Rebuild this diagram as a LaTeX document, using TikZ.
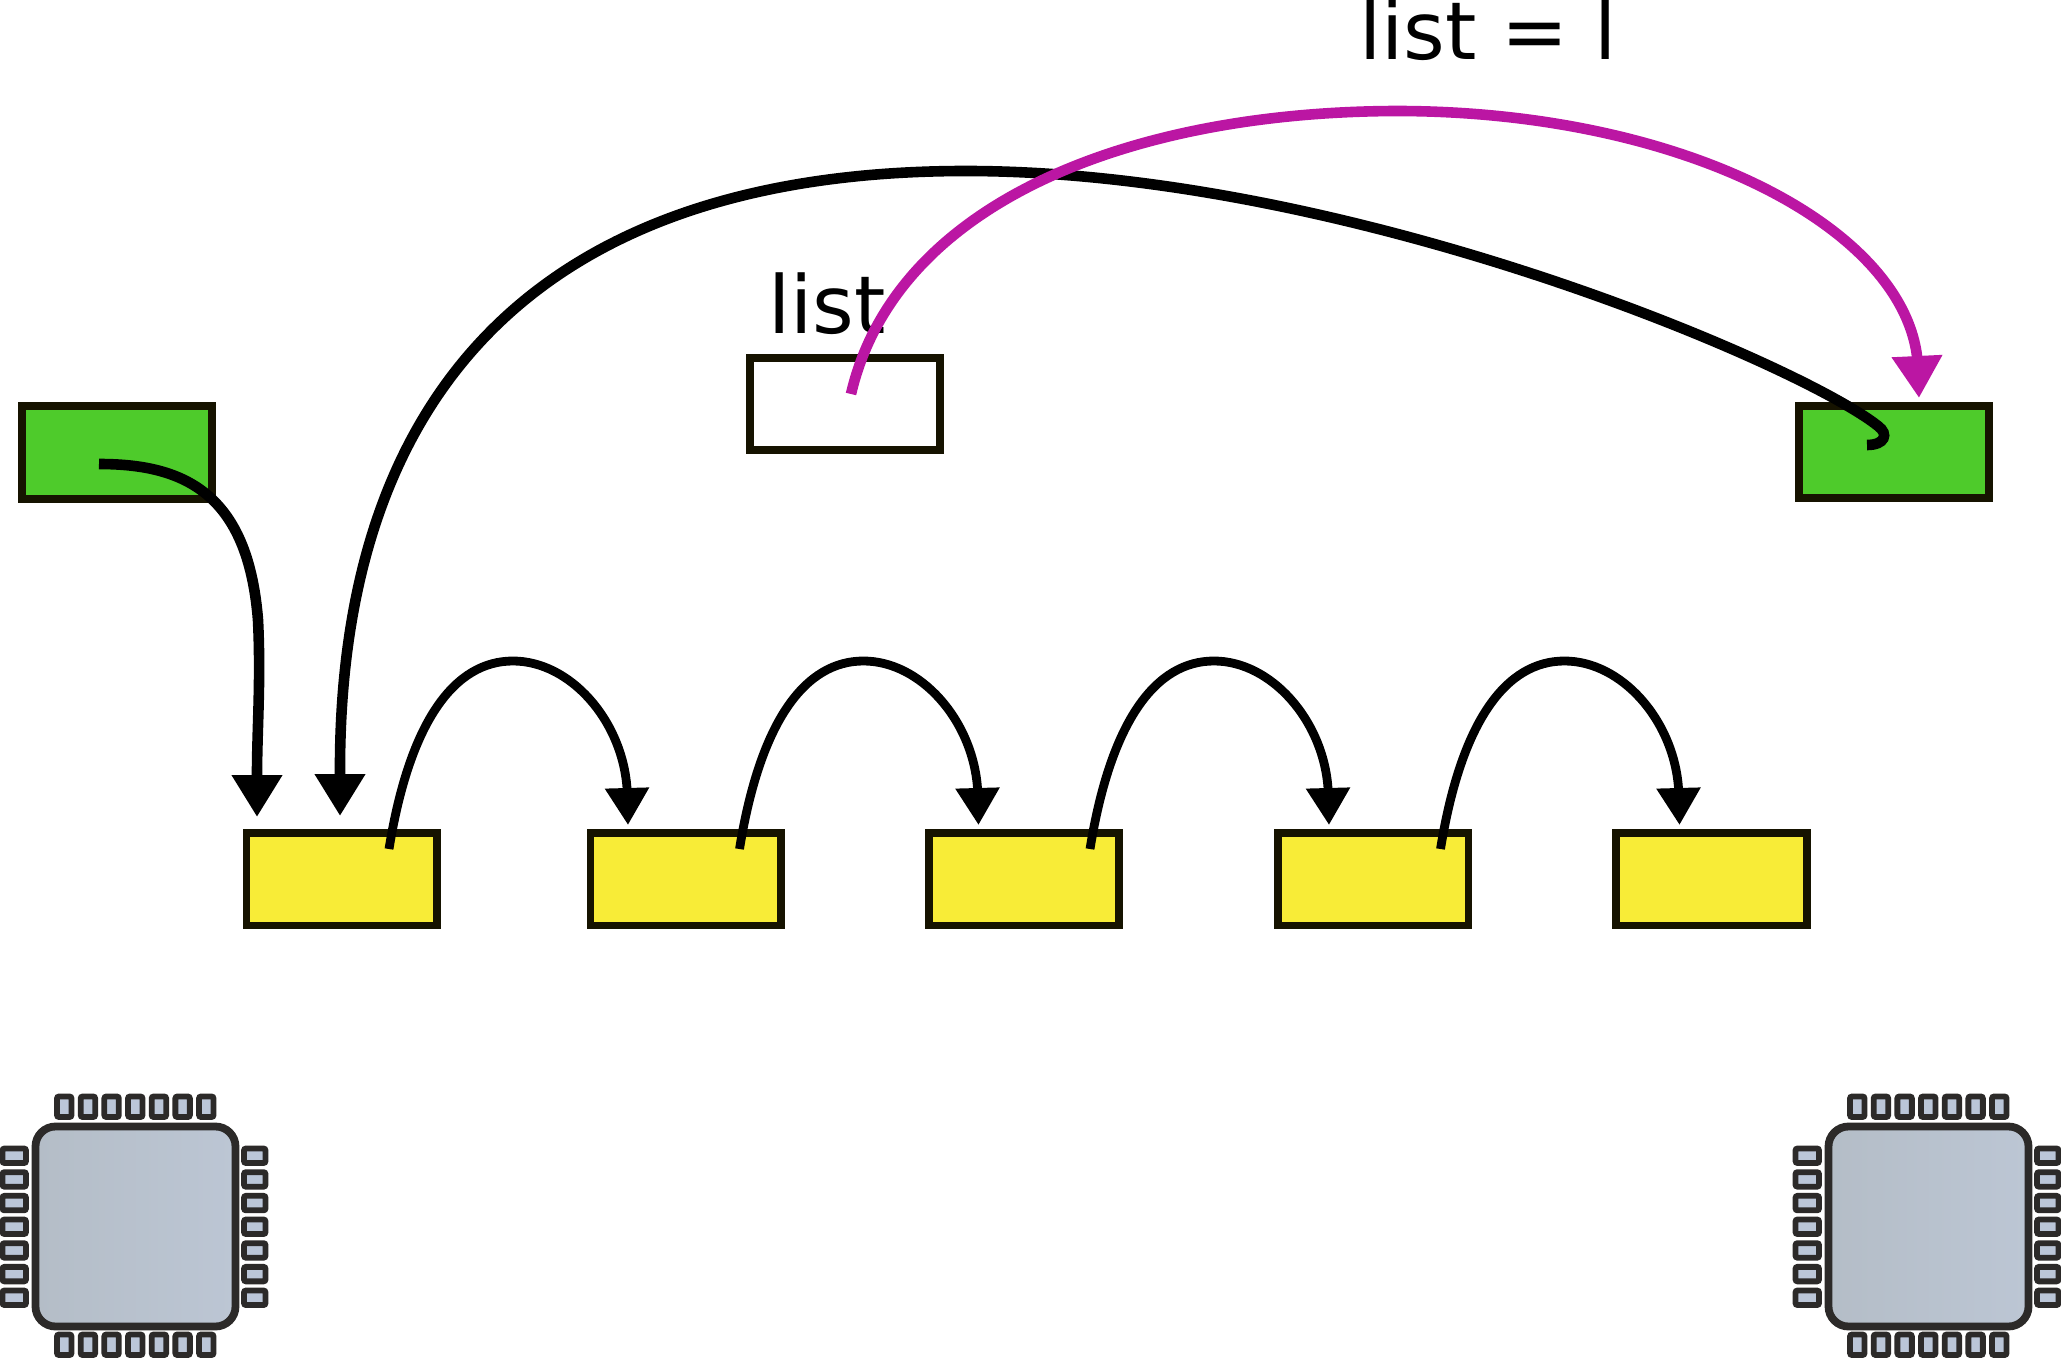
\documentclass[tikz,border=0pt]{standalone}
\usepackage{fontspec}
\setmainfont{DejaVu Sans}
\usetikzlibrary{arrows.meta}
\definecolor{boxline}{HTML}{161300}
\definecolor{boxyellow}{HTML}{F8EC37}
\definecolor{boxgreen}{HTML}{4ECB2B}
\definecolor{curvemag}{HTML}{BB16A3}
\definecolor{chipline}{HTML}{2C2A29}
\definecolor{chipl}{HTML}{B4BDC7}
\definecolor{chipr}{HTML}{BCC6D4}
\definecolor{pinfill}{HTML}{BBC6D8}
\tikzset{
  x=0.5pt,y=-0.5pt,
  cell/.style={draw=boxline,line width=3.9pt,minimum width=95.3pt,minimum height=46.3pt,inner sep=0pt,outer sep=0pt},
  yellowcell/.style={cell,fill=boxyellow},
  greencell/.style={cell,fill=boxgreen},
  whitecell/.style={cell,fill=white},
  bigcurve/.style={line width=5.3pt,black,-{Triangle[length=21pt,width=24pt]}},
  magcurve/.style={line width=5.3pt,curvemag,-{Triangle[length=21pt,width=24pt]}},
  smallcurve/.style={line width=4.4pt,black,-{Triangle[length=18.5pt,width=21pt]}},
  label/.style={font=\fontsize{40pt}{40pt}\selectfont,inner sep=0pt,outer sep=0pt,anchor=base west,black},
  pin/.style={draw=chipline,fill=pinfill,line width=2.9pt,rounded corners=1pt},
  chipbody/.style={draw=chipline,line width=3.9pt,rounded corners=10pt,left color=chipl,right color=chipr},
}
\newcommand{\chipdraw}[1]{%
  \begin{scope}[shift={(#1,0)}]
    \foreach \i in {0,...,6}{
      \pgfmathsetmacro{\px}{57+23.67*\i}
      \pgfmathsetmacro{\py}{1148.5+23.67*\i}
      \draw[pin] (\px,1096.5) rectangle ++(14.5,20.5);
      \draw[pin] (\px,1334.5) rectangle ++(14.5,20.5);
      \draw[pin] (2.5,\py) rectangle ++(23.5,14.5);
      \draw[pin] (244,\py) rectangle ++(21.5,14.5);
    }
    \draw[chipbody] (35.5,1126.5) rectangle (235.5,1326.5);
  \end{scope}}
\begin{document}
\begin{tikzpicture}
\useasboundingbox (0,0) rectangle (2061,1358);
\node[greencell] (gl) at (117,452.3) {};
\node[greencell] (gr) at (1894,452) {};
\node[whitecell] (wl) at (845,404) {};
\node[yellowcell] (y1) at (341.7,879.2) {};
\node[yellowcell] (y2) at (685.7,879.2) {};
\node[yellowcell] (y3) at (1024,879.2) {};
\node[yellowcell] (y4) at (1373.2,879.2) {};
\node[yellowcell] (y5) at (1711.6,879.2) {};
\node[label] (t1) at (768.5,334) {list};
\node[label] (t2) at (1359,60) {list = l};
% free ends
\coordinate (sA) at (99,464);
\coordinate (eA) at (257,817);
\coordinate (sB) at (1867,445);
\coordinate (eB) at (340,816);
\coordinate (sM) at (851,394);
\coordinate (eM) at (1919,398);
\draw[bigcurve] (sA) .. controls (184,464) and (248,493) .. (258,620)
  .. controls (261,680) and (257,730) .. (257,775) -- (eA);
\draw[bigcurve] (sB) .. controls (1885,445) and (1889,434) .. (1878,426)
  .. controls (1800,364) and (1350,171) .. (966,171)
  .. controls (520,171) and (338,412) .. (340,775) -- (eB);
\foreach \n/\dx in {y1/0,y2/350.5,y3/701,y4/1051.5}{
  \coordinate (s\n) at ({389+\dx},849);
  \coordinate (e\n) at ({628+\dx},825);
  \draw[smallcurve] (s\n) .. controls ({410+\dx},720) and ({455+\dx},661) .. ({513+\dx},661)
    .. controls ({570+\dx},661) and ({622+\dx},720) .. ({627+\dx},788) -- (e\n);
}
\draw[magcurve] (sM) .. controls (895,205) and (1125,112) .. (1396,111)
  .. controls (1680,111) and (1900,225) .. (1917,356) -- (eM);
\chipdraw{0}
\chipdraw{1793}
\end{tikzpicture}
\end{document}
